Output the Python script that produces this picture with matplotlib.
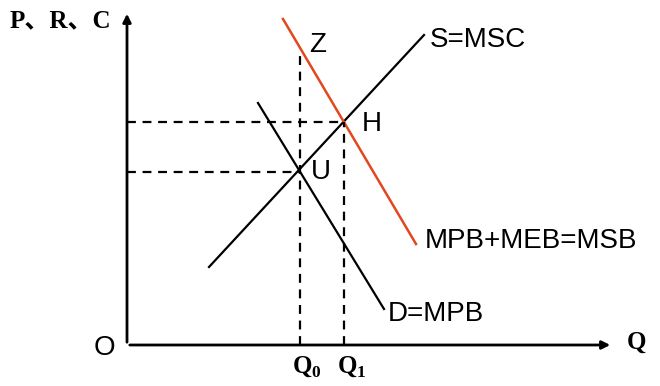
import matplotlib
matplotlib.use("Agg")
import matplotlib.pyplot as plt

# curves as (Q, P) end points, origin at O
supply_q = [82, 297]
supply_p = [78, 310]
demand_q = [131, 257]
demand_p = [242, 36]
msb_q = [156, 289]
msb_p = [326, 101]

q0, p0 = 173, 173   # U
q1, p1 = 217, 223   # H
z_top = 295

fig = plt.figure(figsize=(6.6, 3.86), dpi=100)
ax = fig.add_axes([0, 0, 1, 1])
ax.set_xlim(-127, 533)
ax.set_ylim(-41, 345)
ax.axis('off')

# axes with arrows
ax.annotate('', xy=(0, 334), xytext=(0, 0),
            arrowprops=dict(arrowstyle='-|>', color='black', lw=2, mutation_scale=12))
ax.annotate('', xy=(486, 0), xytext=(0, 0),
            arrowprops=dict(arrowstyle='-|>', color='black', lw=2, mutation_scale=12))

ax.plot(supply_q, supply_p, color='black', lw=1.6)
ax.plot(demand_q, demand_p, color='black', lw=1.6)
ax.plot(msb_q, msb_p, color='#E2471E', lw=1.8)

dash = dict(color='black', lw=1.6, ls=(0, (4, 3)))
ax.plot([q0, q0], [0, z_top], **dash)
ax.plot([q1, q1], [0, p1], **dash)
ax.plot([0, q0], [p0, p0], **dash)
ax.plot([0, q1], [p1, p1], **dash)

serif = dict(family=['Liberation Serif', 'Noto Sans CJK SC'], weight='bold', size=18)
sans = dict(family='Liberation Sans', size=20)
ax.text(-117, 324, 'P、R、C', ha='left', va='center', **serif)
ax.text(-23, -3, 'O', ha='center', va='center', **sans)
ax.text(510, 3, 'Q', ha='center', va='center', **serif)
ax.text(q0 + 7, -22, r'Q$_\mathregular{0}$', ha='center', va='center', **serif)
ax.text(q1 + 8, -22, r'Q$_\mathregular{1}$', ha='center', va='center', **serif)

ax.text(191, 300, 'Z', ha='center', va='center', **sans)
ax.text(q1 + 28, 221, 'H', ha='center', va='center', **sans)
ax.text(q0 + 21, 173, 'U', ha='center', va='center', **sans)
ax.text(303, 305, 'S=MSC', ha='left', va='center', **sans)
ax.text(298, 104, 'MPB+MEB=MSB', ha='left', va='center', **sans)
ax.text(261, 31, 'D=MPB', ha='left', va='center', **sans)

fig.savefig('out.png', dpi=100)
